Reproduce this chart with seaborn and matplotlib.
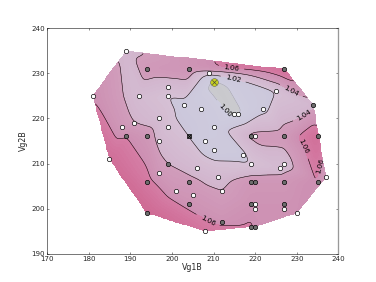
import numpy as np
import pandas as pd
import matplotlib
matplotlib.use("Agg")
import matplotlib.pyplot as plt
import matplotlib.tri as mtri
import seaborn as sns

# ---- data ----
vg1b = [189, 194, 204, 209, 210, 227, 181, 192, 199, 199, 225, 234, 203, 207, 215, 216,
        222, 197, 188, 191, 199, 210, 189, 194, 204, 197, 208, 219, 220, 227, 235, 210,
        217, 185, 199, 219, 227, 226, 197, 206, 211, 237, 194, 204, 219, 220, 227, 235,
        201, 205, 212, 204, 219, 220, 220, 227, 227, 230, 194, 212, 208, 219, 220]
vg2b = [235, 231, 231, 230, 228, 231, 225, 225, 227, 225, 226, 223, 223, 222, 221, 221,
        222, 220, 218, 219, 218, 218, 216, 216, 216, 215, 215, 216, 216, 216, 216, 213,
        212, 211, 210, 210, 210, 209, 208, 209, 207, 207, 206, 206, 206, 206, 206, 206,
        204, 203, 204, 201, 201, 201, 200, 201, 200, 199, 199, 197, 195, 196, 196]
ratio = [1.035, 1.048, 1.052, 1.022, 0.995, 1.080, 1.060, 1.030, 1.030, 1.020, 1.020, 1.035,
         1.014, 1.011, 0.997, 0.998, 1.015, 1.030, 1.048, 1.040, 1.025, 1.008, 1.060, 1.050,
         1.020, 1.035, 1.010, 1.045, 1.045, 1.047, 1.080, 1.012, 1.015, 1.078, 1.040, 1.020,
         1.030, 1.030, 1.048, 1.032, 1.032, 1.035, 1.065, 1.045, 1.050, 1.050, 1.050, 1.062,
         1.050, 1.050, 1.040, 1.055, 1.055, 1.055, 1.056, 1.055, 1.056, 1.058, 1.085, 1.055,
         1.070, 1.062, 1.058]
kind = ['w', 'd', 'd', 'w', 'min', 'd', 'w', 'w', 'w', 'w', 'w', 'd', 'w', 'w', 'w', 'w',
        'w', 'w', 'w', 'w', 'w', 'w', 'd', 'd', 'x', 'w', 'w', 'd', 'w', 'd', 'd', 'w',
        'w', 'w', 'd', 'w', 'w', 'w', 'w', 'w', 'w', 'w', 'd', 'd', 'd', 'd', 'd', 'd',
        'w', 'w', 'w', 'd', 'd', 'w', 'w', 'd', 'w', 'w', 'd', 'd', 'w', 'd', 'd']
line_levels = [1.00, 1.02, 1.04, 1.06]
label_pos = [(214.4, 231.9), (214.4, 227.4), (229.2, 227.0), (214.0, 222.6),
             (232.4, 220.0), (233.3, 214.5), (236.0, 209.3), (208.4, 197.0)]

df = pd.DataFrame({"Vg1B": vg1b, "Vg2B": vg2b, "ratio": ratio, "kind": kind})

# ---- style ----
sns.set_style("ticks")
plt.rcParams['font.family'] = ['DejaVu Sans']
plt.rcParams['font.size'] = 12

fig, ax = plt.subplots(figsize=(8, 6), dpi=47)
fig.subplots_adjust(left=0.125, right=0.9, bottom=0.1, top=0.9)


def lerp(c1, c2, t):
    t = min(max(t, 0.0), 1.0)
    return tuple((a + (b - a) * t) / 255.0 for a, b in zip(c1, c2))


def band_color(v):
    if v < 1.00:
        return lerp((198, 198, 200), (202, 202, 206), (v - 0.98) / 0.02)
    if v < 1.02:
        return lerp((206, 204, 222), (204, 199, 219), (v - 1.00) / 0.02)
    if v < 1.04:
        return lerp((214, 193, 213), (210, 181, 205), (v - 1.02) / 0.02)
    if v < 1.06:
        return lerp((209, 158, 188), (205, 143, 178), (v - 1.04) / 0.02)
    return lerp((213, 126, 166), (205, 100, 142), (v - 1.06) / 0.03)


fill_levels = np.round(np.arange(0.96, 1.1201, 0.0025), 4)
fill_colors = [band_color((a + b) / 2) for a, b in zip(fill_levels[:-1], fill_levels[1:])]

# linear interpolation on a grid, lightly smoothed (normalized convolution)
tri = mtri.Triangulation(df["Vg1B"], df["Vg2B"])
interp = mtri.LinearTriInterpolator(tri, df["ratio"])
gx, gy = np.meshgrid(np.linspace(170, 240, 351), np.linspace(190, 240, 251))
gz = interp(gx, gy)
mask = np.ma.getmaskarray(gz)
w = (~mask).astype(float)
vals = np.where(mask, 0.0, np.ma.getdata(gz))
kx = np.exp(-0.5 * (np.arange(-9, 10) / 3.0) ** 2)
kx /= kx.sum()


def blur(a):
    a = np.apply_along_axis(lambda r: np.convolve(r, kx, mode='same'), 1, a)
    return np.apply_along_axis(lambda c: np.convolve(c, kx, mode='same'), 0, a)


sm = blur(vals * w) / np.maximum(blur(w), 1e-9)
gz = np.ma.array(sm, mask=mask)

ax.contourf(gx, gy, gz, levels=fill_levels, colors=fill_colors, antialiased=False)
cs0 = ax.contour(gx, gy, gz, levels=[line_levels[0]], colors=['0.6'], linewidths=0.6)
cs = ax.contour(gx, gy, gz, levels=line_levels[1:], colors='k', linewidths=0.8)
ax.clabel(cs0, fmt='%.2f', fontsize=11, colors='k', manual=[label_pos[3]], inline=True)
ax.clabel(cs, fmt='%.2f', fontsize=11, colors='k',
          manual=[p for i, p in enumerate(label_pos) if i != 3], inline=True)

# ---- points ----
sub = df[df.kind == 'w']
sns.scatterplot(data=sub, x="Vg1B", y="Vg2B", color='white', edgecolor='black',
                s=45, linewidth=1.0, ax=ax, zorder=5, legend=False)
sub = df[df.kind.isin(['d', 'x'])]
sns.scatterplot(data=sub, x="Vg1B", y="Vg2B", color='#6e6e6e', edgecolor='black',
                s=45, linewidth=1.0, ax=ax, zorder=5, legend=False)
sub = df[df.kind == 'x']
sns.scatterplot(data=sub, x="Vg1B", y="Vg2B", color='black', marker='x',
                s=50, linewidth=1.1, ax=ax, zorder=6, legend=False)
sub = df[df.kind == 'min']
sns.scatterplot(data=sub, x="Vg1B", y="Vg2B", color='#c8d21e', edgecolor='#555555',
                s=140, linewidth=0.8, ax=ax, zorder=6, legend=False)
sns.scatterplot(data=sub, x="Vg1B", y="Vg2B", color='#444444', marker='x',
                s=45, linewidth=1.0, ax=ax, zorder=7, legend=False)

ax.set_xlim(170, 240)
ax.set_ylim(190, 240)
ax.set_xticks(np.arange(170, 241, 10))
ax.set_yticks(np.arange(190, 241, 10))
ax.set_xlabel("Vg1B", labelpad=2)
ax.set_ylabel("Vg2B", labelpad=6)
ax.tick_params(direction='in', top=True, right=True, length=3, width=0.8, pad=3,
               labelsize=11)
for s in ax.spines.values():
    s.set_linewidth(0.8)
    s.set_color('black')
ax.spines['right'].set_color('0.6')
ax.spines['right'].set_linewidth(2)

fig.savefig("out.png", dpi=47)
